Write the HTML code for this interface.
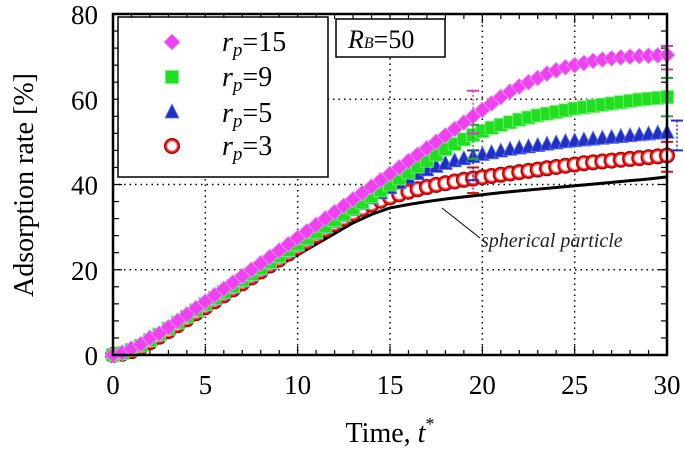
<!DOCTYPE html>
<html><head><meta charset="utf-8"><style>
html,body{margin:0;padding:0;background:#fff;}
svg{display:block;font-family:"Liberation Serif",serif;}
</style></head><body>
<svg id="chart" width="685" height="450" viewBox="0 0 685 450" xmlns="http://www.w3.org/2000/svg">
<defs><radialGradient id="rg" cx="0.5" cy="0.5" r="0.5"><stop offset="0" stop-color="#fff"/><stop offset="0.55" stop-color="#fff"/><stop offset="0.75" stop-color="#ff2020"/><stop offset="1" stop-color="#d00000"/></radialGradient></defs>
<g id="grid"></g>
<g id="axes"></g>
<g id="series"></g>
<rect x="113" y="14" width="554" height="341" fill="none" stroke="#000" stroke-width="2.5"/>
<text transform="translate(33,185) rotate(-90)" text-anchor="middle" font-size="28">Adsorption rate [%]</text>
<text x="390" y="442" text-anchor="middle" font-size="28">Time,  <tspan font-style="italic">t</tspan><tspan font-size="18" dy="-12">*</tspan></text>
<g>
<rect x="118" y="17" width="210" height="160" fill="#fff" stroke="#000" stroke-width="1.5"/>
<g id="legend-items"></g>
</g>
<g>
<rect x="336" y="19" width="109" height="38" fill="#fff" stroke="#000" stroke-width="1.5"/>
<text x="348" y="48" font-size="26"><tspan font-style="italic">R</tspan><tspan font-size="16" font-style="italic">B</tspan>=50</text>
</g>
<g>
<line x1="442" y1="208" x2="480" y2="238" stroke="#000" stroke-width="1"/>
<text x="481" y="247" font-size="20" font-style="italic" fill="#222">spherical particle</text>
</g>
</svg>
<script>
const xTicks=[0,5,10,15,20,25,30];
const yTicks=[0,20,40,60,80];
const seriesNames=["rp=15","rp=9","rp=5","rp=3"];
const rp15=[0,0.5,1.5,2.5,4,5,6.5,8,9.5,11,12.5,14,15.5,17,18.5,20,21.5,23,24.5,26,27.5,29,30.5,32,33.5,35,36.5,38,39.5,41,42.5,44,45.5,47,48.5,50,51.5,53,54.5,56,57.5,59,60.5,61.8,63,64,65,66,66.8,67.5,68,68.5,69,69.3,69.6,69.8,70,70.1,70.2,70.3,70.4];
const rp9=[0,0.4,1.2,2.2,3.5,4.8,6.2,7.6,9,10.5,12,13.4,14.8,16.2,17.6,19,20.4,21.8,23.2,24.6,26,27.4,28.8,30.2,31.6,33,34.4,35.8,37.2,38.6,40,41.4,42.8,44.2,45.6,47,48.3,49.5,50.6,51.6,52.5,53.3,54,54.6,55.2,55.7,56.2,56.6,57,57.4,57.8,58.1,58.4,58.7,59,59.3,59.6,59.9,60.1,60.3,60.5];
const rp5=[0,0.3,1,2,3.2,4.5,5.9,7.3,8.7,10.1,11.5,12.9,14.3,15.7,17.1,18.5,19.9,21.3,22.7,24.1,25.5,26.9,28.3,29.7,31.1,32.5,33.9,35.3,36.6,37.8,39,40.2,41.3,42.3,43.2,44,44.7,45.3,45.8,46.3,46.8,47.2,47.6,48,48.3,48.6,48.9,49.2,49.5,49.8,50,50.2,50.4,50.6,50.8,51,51.2,51.4,51.6,51.8,52];
const rp3=[0,0.3,0.9,1.8,3,4.3,5.6,7,8.4,9.8,11.2,12.6,14,15.4,16.8,18.2,19.6,21,22.4,23.8,25.2,26.6,28,29.4,30.7,32,33.2,34.3,35.3,36.2,37,37.7,38.3,38.9,39.4,39.9,40.3,40.7,41.1,41.4,41.7,42,42.3,42.6,42.9,43.2,43.5,43.8,44.1,44.4,44.7,45,45.2,45.4,45.6,45.8,46,46.2,46.4,46.6,46.8];
const sphere=[0,0.5,2.5,5.5,8.5,11,13.5,16,18.5,21,23.5,26,28.5,31,33,34.5,35.3,36,36.6,37.1,37.6,38.1,38.5,38.9,39.3,39.7,40.1,40.5,40.9,41.3,41.8];
const errT=[19.5,30];
const errHi15=[62,72.5],errLo15=[52,67];
const errHi9=[54,65],errLo9=[46,56];
const errHi5=[48,55],errLo5=[41,48];
const errHi3=[44,50],errLo3=[38,43];

const NS="http://www.w3.org/2000/svg";
const X=t=>113+t*554/30;
const Y=v=>355-v*341/80;
function mk(tag,at,parent){const e=document.createElementNS(NS,tag);for(const k in at)e.setAttribute(k,at[k]);parent.appendChild(e);return e;}
const grid=document.getElementById('grid'),axes=document.getElementById('axes'),ser=document.getElementById('series');
xTicks.forEach(t=>{
 if(t>0&&t<30){const g=mk('line',{x1:X(t),x2:X(t),y1:14,y2:355,stroke:'#000','stroke-width':1.5,'stroke-dasharray':'1.5,4'},grid);
 }
 const l=mk('text',{x:X(t),y:394,'text-anchor':'middle','font-size':27},axes);l.textContent=t;
 
});
yTicks.forEach(v=>{
 if(v>0&&v<80){const g=mk('line',{x1:113,x2:667,y1:Y(v),y2:Y(v),stroke:'#000','stroke-width':1.5,'stroke-dasharray':'1.5,4'},grid);
 }
 const l=mk('text',{x:98,y:Y(v)+10,'text-anchor':'end','font-size':27},axes);l.textContent=v;
 
});
for(let t=0;t<=30;t++){const L=t%5===0?9:5;
 mk('line',{x1:X(t),x2:X(t),y1:355,y2:355-L,stroke:'#000','stroke-width':1.2},axes);
 mk('line',{x1:X(t),x2:X(t),y1:14,y2:14+L,stroke:'#000','stroke-width':1.2},axes);}
for(let v=0;v<=80;v+=4){const L=v%20===0?9:6;
 mk('line',{x1:113,x2:113+L,y1:Y(v),y2:Y(v),stroke:'#000','stroke-width':1.2},axes);
 mk('line',{x1:667,x2:667-L,y1:Y(v),y2:Y(v),stroke:'#000','stroke-width':1.2},axes);}

function marker(kind,x,y,parent){
 if(kind==='d')return mk('polygon',{points:`${x},${y-8} ${x+8},${y} ${x},${y+8} ${x-8},${y}`,fill:'#f040f0',stroke:'#e0a0ff','stroke-width':0.8},parent);
 if(kind==='s')return mk('rect',{x:x-6.5,y:y-6.5,width:13,height:13,fill:'#22dd22',stroke:'#66ff66','stroke-width':0.8},parent);
 if(kind==='t')return mk('polygon',{points:`${x},${y-9} ${x+7},${y+5} ${x-7},${y+5}`,fill:'#2030c0',stroke:'#6070ff','stroke-width':0.8},parent);
 return mk('circle',{cx:x,cy:y,r:7.5,fill:'url(#rg)',stroke:'#a00000','stroke-width':1},parent);
}
const sp=sphere.map((v,i)=>X(i)+','+Y(v)).join(' ');
const spl=mk('polyline',{points:sp,fill:'none',stroke:'#000','stroke-width':3},ser);

const defs=[[rp3,'c','#e01010',errHi3,errLo3],[rp5,'t','#2030c0',errHi5,errLo5],[rp9,'s','#22aa22',errHi9,errLo9],[rp15,'d','#d040d0',errHi15,errLo15]];
defs.forEach(([arr,kind,col,hi,lo])=>{
 const g=mk('g',{},ser);
 
 arr.forEach((v,i)=>{const m=marker(kind,X(i*0.5),Y(v),g);
  });
 errT.forEach((t,j)=>{const x=X(t)+(kind==='t'&&j===1?10:0);
  const e=mk('line',{x1:x,x2:x,y1:Y(hi[j]),y2:Y(lo[j]),stroke:col,'stroke-width':1.5,'stroke-dasharray':'2,2'},g);
  
  mk('line',{x1:x-6,x2:x+6,y1:Y(hi[j]),y2:Y(hi[j]),stroke:col,'stroke-width':2},g);
  mk('line',{x1:x-6,x2:x+6,y1:Y(lo[j]),y2:Y(lo[j]),stroke:col,'stroke-width':2},g);});
});
const li=document.getElementById('legend-items');
const lk=['d','s','t','c'],lv=['15','9','5','3'],ly=[42,77,113,146];
lk.forEach((k,i)=>{
 const g=mk('g',{},li);
 
 marker(k,172,ly[i],g);
 const t=mk('text',{x:222,y:ly[i]+9,'font-size':28},g);
 t.innerHTML='<tspan font-style="italic">r</tspan><tspan font-style="italic" font-size="19" dy="5">p</tspan><tspan dy="-5">='+lv[i]+'</tspan>';
});
</script>
</body></html>
